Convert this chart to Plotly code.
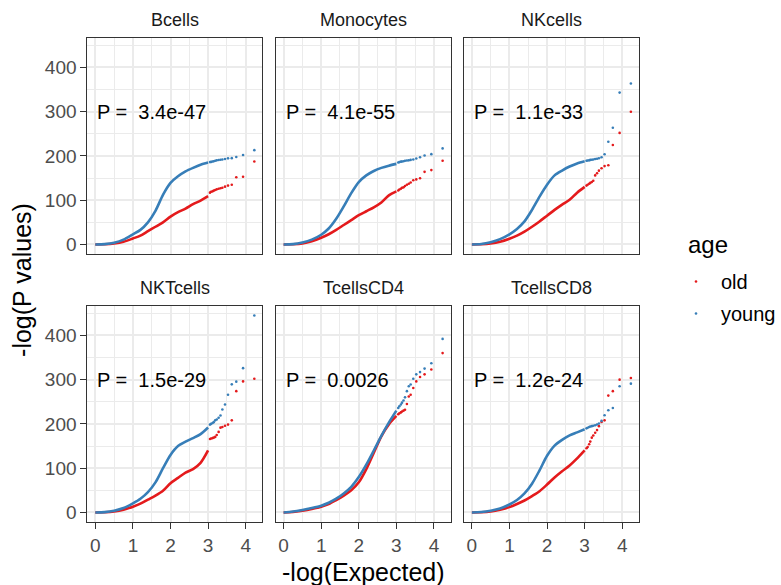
import plotly.graph_objects as go

# ---------------------------------------------------------------------------
# Data: QQ curves of -log10(P) against expected -log10 quantiles, per cell type
# ---------------------------------------------------------------------------
FACETS = ["Bcells", "Monocytes", "NKcells", "NKTcells", "TcellsCD4", "TcellsCD8"]
P_LABELS = ["3.4e-47", "4.1e-55", "1.1e-33", "1.5e-29", "0.0026", "1.2e-24"]
AGE_GROUPS = ["old", "young"]

# expected quantiles for the dense bulk of every curve
EXPECTED = [0, 0.25, 0.5, 0.75, 1.0, 1.2, 1.4, 1.6, 1.8, 2.0, 2.2, 2.4, 2.6, 2.8, 3.0]
# expected quantiles of the 15 most extreme genes, drawn as single points
EXPECTED_TAIL = [3.05, 3.08, 3.12, 3.15, 3.19, 3.23, 3.28, 3.33, 3.38, 3.45,
                 3.53, 3.63, 3.75, 3.93, 4.23]

BCELLS_OLD = [0, 0.3, 2, 6, 13.5, 20, 30, 40, 50, 63, 73, 81, 91, 99, 109]
BCELLS_OLD_TAIL = [117, 119, 120, 121.5, 123, 124.5, 126, 127, 128, 130.6, 133, 135, 151.7, 153, 187.5]
BCELLS_YOUNG = [0, 0.8, 4, 11, 23, 33, 50, 76, 112, 139, 154, 165, 173, 180, 185]
BCELLS_YOUNG_TAIL = [186, 186.5, 187.5, 188, 189, 190, 190.8, 191.5, 192, 193, 194.5, 195, 197.5, 202, 213]

MONO_OLD = [0, 0.3, 2, 7, 15, 23, 33, 44, 55, 66, 75, 84, 95, 111, 120]
MONO_OLD_TAIL = [122, 124, 126, 128, 129, 132, 135, 137, 140, 145, 147, 149.5, 164, 168, 189]
MONO_YOUNG = [0, 0.8, 4.5, 11, 22, 36, 58, 86, 116, 141, 156, 166, 173, 178, 182]
MONO_YOUNG_TAIL = [185, 186, 187, 187.5, 188, 189, 189.5, 190, 191, 192, 194, 197, 201, 204, 217]

NK_OLD = [0, 0.3, 2, 6, 13, 20, 29, 40, 52, 65, 78, 90, 101, 117, 130]
NK_OLD_TAIL = [133, 135, 137, 139, 141, 144, 156, 160.8, 166.7, 172, 177, 179, 224.5, 252, 299.6]
NK_YOUNG = [0, 1, 5, 12, 23, 35, 52, 78, 108, 135, 156, 167, 176, 183, 188]
NK_YOUNG_TAIL = [189, 189.5, 190, 191, 191.5, 192, 193, 193.5, 194.6, 197, 203.6, 232, 263.5, 343, 363.5]

NKT_OLD = [0, 0.3, 2, 6, 13, 20, 29, 38, 49, 66, 78, 90, 98, 112, 140]
NKT_OLD_TAIL = [166, 167, 168, 169, 170.7, 175, 182, 191.6, 193, 196, 198.4, 208, 274, 296, 302]
NKT_YOUNG = [0, 0.8, 4, 10, 20.7, 31, 46, 68, 100, 130, 150, 160, 168, 177, 192]
NKT_YOUNG_TAIL = [198.4, 200, 202, 204, 208, 210, 214, 219, 232.4, 244, 266, 289.4, 295.5, 326, 444.8]

CD4_OLD = [0, 1, 4, 8, 13, 19, 28, 38, 50, 68, 98, 135, 172, 199, 218]
CD4_OLD_TAIL = [222, 224, 226, 228, 230, 232, 245, 262, 266, 281, 296, 306, 312, 323, 360]
CD4_YOUNG = [0, 2, 5.6, 10, 15.3, 22, 31, 43, 58, 80, 108, 140, 173, 203, 230]
CD4_YOUNG_TAIL = [236, 240, 244, 248, 253, 260, 274, 285, 289, 302, 312, 317, 325, 337, 392]

CD8_OLD = [0, 0.3, 2, 6, 12, 19, 27, 37, 48, 63, 79, 93, 106, 122, 140]
CD8_OLD_TAIL = [145, 148, 154, 160, 169, 174, 180, 186, 195, 204.6, 208, 264, 274, 300, 303.6]
CD8_YOUNG = [0, 1, 4, 9, 18, 28, 43, 65, 95, 128, 151, 164, 174, 181, 188]
CD8_YOUNG_TAIL = [190, 191.5, 193, 194, 195, 196, 197, 198.6, 201, 206.8, 219.6, 231, 236, 285, 291]

# per facet: (old bulk, old tail, young bulk, young tail)
SERIES = [
    (BCELLS_OLD, BCELLS_OLD_TAIL, BCELLS_YOUNG, BCELLS_YOUNG_TAIL),
    (MONO_OLD, MONO_OLD_TAIL, MONO_YOUNG, MONO_YOUNG_TAIL),
    (NK_OLD, NK_OLD_TAIL, NK_YOUNG, NK_YOUNG_TAIL),
    (NKT_OLD, NKT_OLD_TAIL, NKT_YOUNG, NKT_YOUNG_TAIL),
    (CD4_OLD, CD4_OLD_TAIL, CD4_YOUNG, CD4_YOUNG_TAIL),
    (CD8_OLD, CD8_OLD_TAIL, CD8_YOUNG, CD8_YOUNG_TAIL),
]

# ---------------------------------------------------------------------------
# Styling
# ---------------------------------------------------------------------------
W, H = 781, 585
FONT = "Liberation Sans, Arial, sans-serif"
COLORS = {"old": "#E41A1C", "young": "#377EB8"}
GRID = "#EBEBEB"
BORDER = "#333333"

COL_PX = [(87.7, 263.3), (276.7, 452.3), (465.7, 641.3)]
ROW_PX = [(37.7, 254.3), (305.7, 522.3)]

x_max = max(EXPECTED_TAIL)
y_max = max(max(s) for group in SERIES for s in group)
X_RANGE = [-0.05 * x_max, 1.05 * x_max]
Y_RANGE = [-0.05 * y_max, 1.05 * y_max]


def xdom(c):
    a, b = COL_PX[c]
    return [a / W, b / W]


def ydom(r):
    a, b = ROW_PX[r]
    return [1 - b / H, 1 - a / H]


fig = go.Figure()
layout = dict(
    width=W, height=H,
    margin=dict(l=0, r=0, t=0, b=0),
    paper_bgcolor="white", plot_bgcolor="white",
    font=dict(family=FONT, color="#000000"),
)

annotations = []
for k, name in enumerate(FACETS):
    r, c = divmod(k, 3)
    sfx = "" if k == 0 else str(k + 1)
    xa, ya = "x" + sfx, "y" + sfx
    bottom = r == 1
    left = c == 0

    layout["xaxis" + sfx] = dict(
        domain=xdom(c), anchor=ya, range=X_RANGE,
        tick0=0, dtick=1, showgrid=True, gridcolor=GRID, gridwidth=1.8,
        minor=dict(tick0=0, dtick=0.5, showgrid=True, gridcolor=GRID, gridwidth=0.9),
        zeroline=False, showline=True, mirror=True, linecolor=BORDER, linewidth=1,
        ticks="outside" if bottom else "", ticklen=6, tickwidth=1, tickcolor=BORDER,
        showticklabels=bottom,
        tickfont=dict(family=FONT, size=19, color="#4D4D4D"),
    )
    layout["yaxis" + sfx] = dict(
        domain=ydom(r), anchor=xa, range=Y_RANGE,
        tick0=0, dtick=100, showgrid=True, gridcolor=GRID, gridwidth=1.8,
        minor=dict(tick0=0, dtick=50, showgrid=True, gridcolor=GRID, gridwidth=0.9),
        zeroline=False, showline=True, mirror=True, linecolor=BORDER, linewidth=1,
        ticks="outside" if left else "", ticklen=6, tickwidth=1, tickcolor=BORDER,
        showticklabels=left,
        tickfont=dict(family=FONT, size=19, color="#4D4D4D"),
    )

    old, old_tail, young, young_tail = SERIES[k]
    for group, bulk, tail in (("old", old, old_tail), ("young", young, young_tail)):
        fig.add_trace(go.Scatter(
            x=EXPECTED, y=bulk, mode="lines",
            line=dict(color=COLORS[group], width=2.6, shape="spline", smoothing=0.8),
            xaxis=xa, yaxis=ya, showlegend=False, hoverinfo="skip",
            legendgroup=group,
        ))
        fig.add_trace(go.Scatter(
            x=EXPECTED_TAIL, y=tail, mode="markers", name=group,
            marker=dict(color=COLORS[group], size=2.6, line=dict(width=0)),
            xaxis=xa, yaxis=ya, showlegend=(k == 0), legendgroup=group,
        ))

    # facet strip label
    x0, x1 = COL_PX[c]
    annotations.append(dict(
        text=name, xref="paper", yref="paper",
        x=(x0 + x1) / 2 / W, y=1 - (ROW_PX[r][0] - 17.5) / H,
        xanchor="center", yanchor="middle", showarrow=False,
        font=dict(family=FONT, size=18, color="#1A1A1A"),
    ))
    # test p-value label
    annotations.append(dict(
        text="P =  " + P_LABELS[k], xref=xa, yref=ya, x=0, y=300,
        xanchor="left", yanchor="middle", showarrow=False,
        font=dict(family=FONT, size=20, color="#000000"),
    ))

# axis titles
annotations.append(dict(
    text="-log(Expected)", xref="paper", yref="paper",
    x=(COL_PX[0][0] + COL_PX[2][1]) / 2 / W, y=1 - 571.5 / H,
    xanchor="center", yanchor="middle", showarrow=False,
    font=dict(family=FONT, size=25, color="#000000"),
))
annotations.append(dict(
    text="-log(P values)", xref="paper", yref="paper",
    x=22 / W, y=1 - (ROW_PX[0][0] + ROW_PX[1][1]) / 2 / H,
    xanchor="center", yanchor="middle", textangle=-90, showarrow=False,
    font=dict(family=FONT, size=25, color="#000000"),
))
# legend title
annotations.append(dict(
    text="age", xref="paper", yref="paper", x=689 / W, y=1 - 244 / H,
    xanchor="left", yanchor="middle", showarrow=False,
    font=dict(family=FONT, size=24, color="#000000"),
))

layout["annotations"] = annotations
layout["legend"] = dict(
    x=674 / W, y=1 - 262 / H, xanchor="left", yanchor="top",
    font=dict(family=FONT, size=20, color="#000000"),
    itemsizing="trace", itemwidth=40, bgcolor="rgba(0,0,0,0)", tracegroupgap=3,
)
fig.update_layout(**layout)

fig.write_html("out.html")
